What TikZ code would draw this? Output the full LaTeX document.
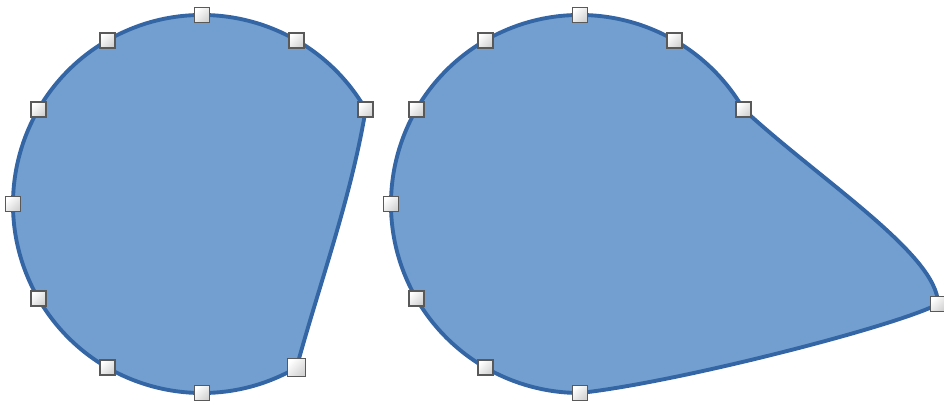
\documentclass[tikz,border=0pt]{standalone}
\usetikzlibrary{calc}
\definecolor{blobfill}{RGB}{114,159,207}
\definecolor{blobline}{RGB}{52,101,164}
\tikzset{
  blob/.style={draw=blobline,fill=blobfill,line width=2.2pt,line join=round},
  handle/.style={draw=black!65,line width=0.9pt,inner sep=0pt,minimum size=0.3cm,
    top color=white,bottom color=gray!35,shading angle=45},
  bighandle/.style={handle,minimum size=0.36cm}
}
\begin{document}
\begin{tikzpicture}[x=0.02cm,y=0.02cm]
\useasboundingbox (0,0) rectangle (944,402);
% left shape: arc plus a nearly straight side
\draw[blob] (202,198) ++(30:189) coordinate (la)
  arc[start angle=30,end angle=300,radius=189] coordinate (lb)
  .. controls (320,120) and (351,204) .. (la) -- cycle;
% right shape: arc pulled out to a point
\coordinate (tip) at (938,98);
\draw[blob] (580,198) ++(30:189) coordinate (ra)
  arc[start angle=30,end angle=270,radius=189] coordinate (rb)
  .. controls (680,20) and (900,77) .. (tip)
  .. controls (938,147) and (820,222) .. (ra) -- cycle;
% handles
\foreach \a in {30,60,...,270}
  \node[handle] (lh\a) at ($(202,198)+(\a:189)$) {};
\node[bighandle] (lh300) at ($(202,198)+(300:189)$) {};
\foreach \a in {30,60,...,270}
  \node[handle] (rh\a) at ($(580,198)+(\a:189)$) {};
\node[handle] (rhtip) at (tip) {};
\end{tikzpicture}
\end{document}
